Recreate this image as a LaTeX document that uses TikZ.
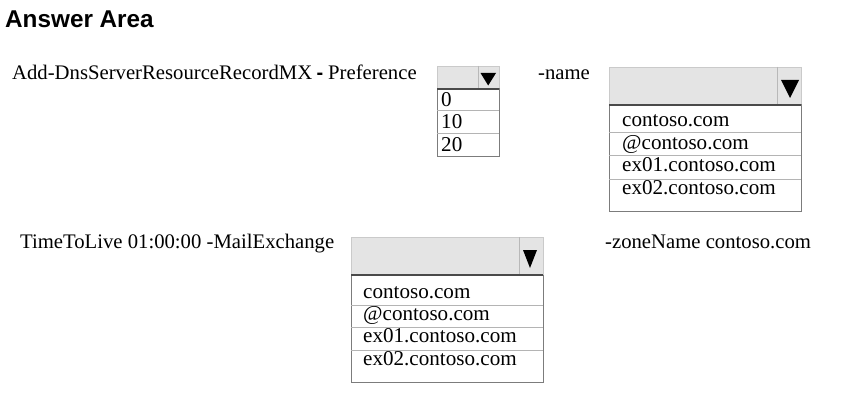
\documentclass[tikz,border=0pt]{standalone}
\usepackage{fontspec}
\setmainfont{Liberation Serif}
\newfontfamily\titlefont{Liberation Sans}
\definecolor{hdrfill}{HTML}{E4E4E4}
\definecolor{hdredge}{HTML}{CACACA}
\definecolor{hdrsep}{HTML}{B8B8B8}
\definecolor{listedge}{HTML}{7C7C7C}
\definecolor{rowline}{HTML}{B4B4B4}
\definecolor{hdrbottom}{HTML}{4A4A4A}
\begin{document}
\begin{tikzpicture}[x=1pt,y=-1pt,
  txt/.style={anchor=base west,inner sep=0pt,font=\fontsize{20.7}{22}\selectfont},
  itemtxt/.style={anchor=base west,inner sep=0pt,font=\fontsize{21.1}{22}\selectfont},
  hdr/.style={fill=hdrfill,draw=hdredge,line width=0.8pt},
  hsep/.style={draw=hdrsep,line width=0.8pt},
  hbot/.style={draw=hdrbottom,line width=1.2pt},
  listbox/.style={draw=listedge,line width=1pt},
  rowsep/.style={draw=rowline,line width=0.9pt},
  tri/.style={fill=black,draw=none}]
\useasboundingbox (0,0) rectangle (844,401);
\fill[white] (0,0) rectangle (844,401);
% title
\node[anchor=base west,inner sep=0pt,font=\titlefont\bfseries\fontsize{24.3}{26}\selectfont] (title) at (5,27.7) {Answer Area};
% first line texts
\node[txt] (cmd) at (12,80) {Add-DnsServerResourceRecordMX};
\node[txt,font=\titlefont\bfseries\fontsize{20}{22}\selectfont] (dash) at (316.5,80) {-};
\node[txt] (pref) at (328,80) {Preference};
\node[txt] (nameparam) at (538,80) {-name};
% second line texts
\node[txt] (ttl) at (20,248) {TimeToLive 01:00:00 -MailExchange};
\node[txt] (zone) at (605,248) {-zoneName contoso.com};

% ---- small dropdown (Preference)
\path[hdr] (437,66) rectangle (499,89);
\draw[hsep] (478,66) -- (478,89);
\fill[tri] (480.5,73) -- (496,73) -- (488.2,85.5) -- cycle;
\draw[listbox] (437,89) rectangle (499,157);
\draw[rowsep] (437,110) -- (499,110);
\draw[rowsep] (437,133) -- (499,133);
\draw[hbot] (437,89) -- (499,89);
\node[itemtxt] (p0) at (441,106.5) {0};
\node[itemtxt] (p10) at (441,129) {10};
\node[itemtxt] (p20) at (441,151.5) {20};

% ---- name dropdown
\path[hdr] (609,67) rectangle (801,105);
\draw[hsep] (777,67) -- (777,105);
\fill[tri] (781,80) -- (799,80) -- (790,98) -- cycle;
\draw[listbox] (609,105) rectangle (801,212);
\draw[rowsep] (609,132) -- (801,132);
\draw[rowsep] (609,155.5) -- (801,155.5);
\draw[rowsep] (609,179) -- (801,179);
\draw[hbot] (609,105) -- (801,105);
\node[itemtxt] (n1) at (622,127) {contoso.com};
\node[itemtxt] (n2) at (622,149.5) {@contoso.com};
\node[itemtxt] (n3) at (622,172) {ex01.contoso.com};
\node[itemtxt] (n4) at (622,194.5) {ex02.contoso.com};

% ---- mail exchange dropdown
\path[hdr] (351,237) rectangle (543,275);
\draw[hsep] (519.5,237) -- (519.5,275);
\fill[tri] (523,250) -- (537,250) -- (530,268) -- cycle;
\draw[listbox] (351,275) rectangle (543,382);
\draw[rowsep] (351,305) -- (543,305);
\draw[rowsep] (351,327) -- (543,327);
\draw[rowsep] (351,350) -- (543,350);
\draw[hbot] (351,275) -- (543,275);
\node[itemtxt] (m1) at (363,298) {contoso.com};
\node[itemtxt] (m2) at (363,320) {@contoso.com};
\node[itemtxt] (m3) at (363,342.5) {ex01.contoso.com};
\node[itemtxt] (m4) at (363,365) {ex02.contoso.com};
\end{tikzpicture}
\end{document}
